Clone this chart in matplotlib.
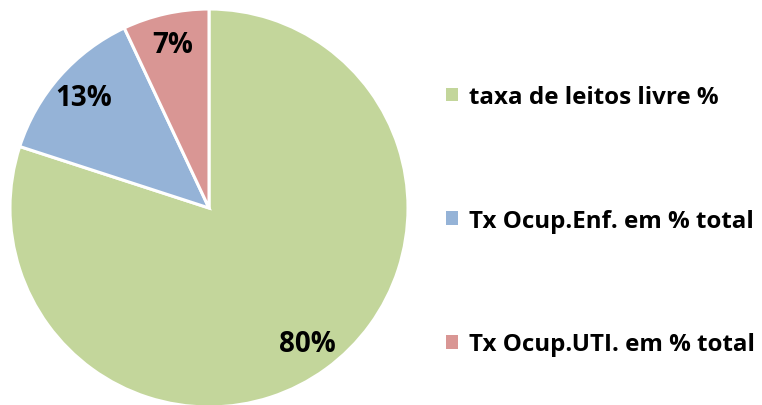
import matplotlib
matplotlib.use('Agg')
import matplotlib.pyplot as plt
from matplotlib.patches import Patch

labels = ['taxa de leitos livre %', 'Tx Ocup.Enf. em % total', 'Tx Ocup.UTI. em % total']
values = [80, 13, 7]
colors = ['#C3D69B', '#95B3D7', '#D99694']

plt.rcParams['font.family'] = ['Open Sans', 'DejaVu Sans']

W, H = 762, 406
fig = plt.figure(figsize=(W / 100, H / 100), dpi=100)

# pie axes: center (209, 209) px from top-left, radius ~199 px
cx, cy, r = 209, 209, 199
ax = fig.add_axes([(cx - r) / W, (H - cy - r) / H, 2 * r / W, 2 * r / H])
wedges, texts, autotexts = ax.pie(
    values, colors=colors, startangle=90, counterclock=False,
    autopct='%1.0f%%', pctdistance=0.84, radius=1,
    wedgeprops=dict(edgecolor='white', linewidth=2.2),
    textprops=dict(fontsize=20, fontweight='bold', color='black'))
ax.set_xlim(-1, 1)
ax.set_ylim(-1, 1)
ax.set_aspect('auto')
ax.axis('off')

handles = [Patch(facecolor=c, edgecolor='none') for c in colors]
fig.legend(handles, labels, loc='upper left', bbox_to_anchor=(434 / W, 1 - 74 / H),
           frameon=False, prop=dict(size=17.4, weight='bold'),
           handlelength=0.5, handleheight=0.5, handletextpad=0.45,
           labelspacing=4.12, borderpad=0)

fig.savefig('out.png', dpi=100)
